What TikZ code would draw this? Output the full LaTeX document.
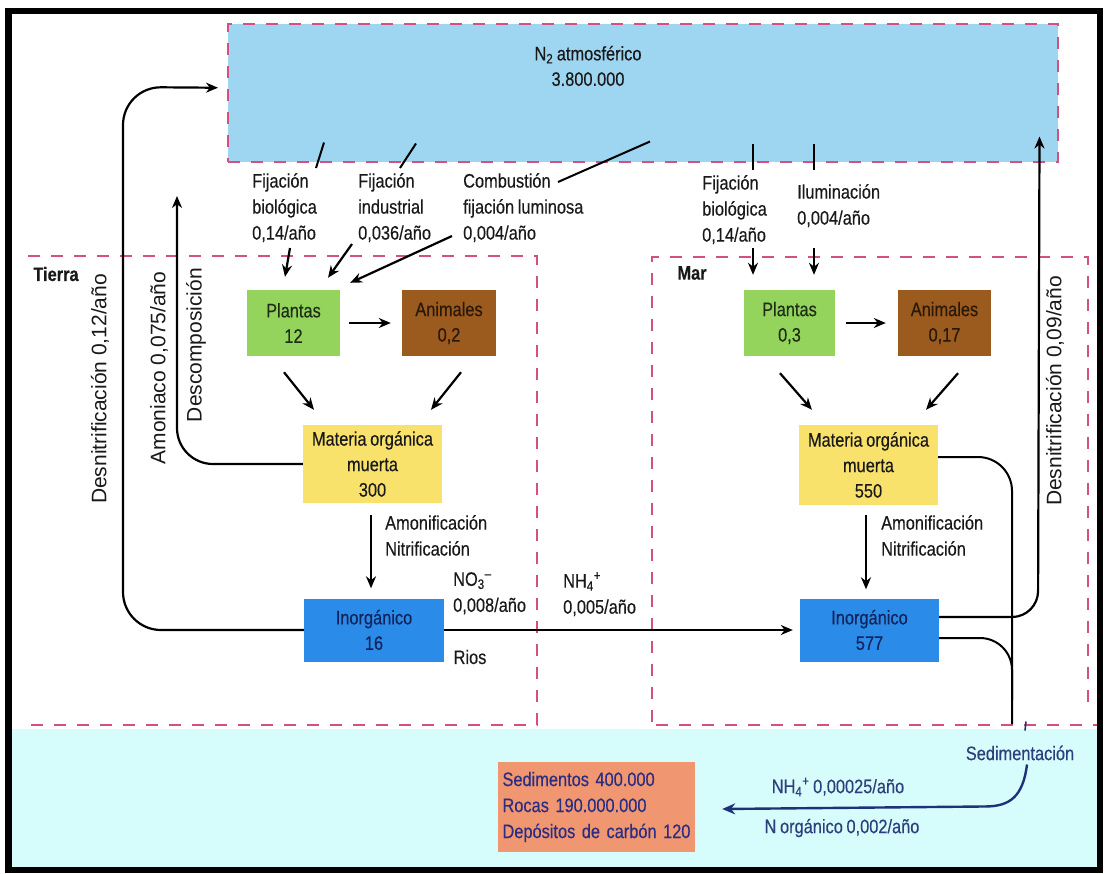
\documentclass[tikz,border=0pt]{standalone}
\usepackage{fontspec}
\setmainfont{Liberation Sans}
\newfontfamily\cnd[FakeStretch=0.84,FakeBold=0.3,WordSpace=0.8]{Liberation Sans}
\usetikzlibrary{arrows.meta,calc}
\definecolor{dashc}{RGB}{210,80,130}
\definecolor{airc}{RGB}{158,213,240}
\definecolor{seac}{RGB}{214,252,252}
\definecolor{plantc}{RGB}{148,212,92}
\definecolor{animc}{RGB}{155,90,30}
\definecolor{matc}{RGB}{248,226,107}
\definecolor{inoc}{RGB}{42,140,232}
\definecolor{sedc}{RGB}{240,150,112}
\definecolor{txtc}{RGB}{25,25,25}
\definecolor{plttxt}{RGB}{30,45,20}
\definecolor{anitxt}{RGB}{40,25,10}
\definecolor{inotxt}{RGB}{20,35,90}
\definecolor{seatxt}{RGB}{45,62,125}
\definecolor{sedtxt}{RGB}{42,45,130}
\definecolor{bluearr}{RGB}{30,50,120}
\tikzset{
  boxs/.style={rectangle, inner sep=0pt, align=center, text=txtc, font=\cnd\fontsize{19.5}{25.5}\selectfont},
  lbl/.style={inner sep=0pt, align=left, anchor=north west, text=txtc, font=\cnd\fontsize{19.5}{26}\selectfont},
  rlbl/.style={inner sep=0pt, rotate=90, text=txtc, font=\fontsize{21}{26}\selectfont},
  arr/.style={line width=2.2pt, -{Stealth[length=12pt,width=10pt]}},
  arrb/.style={line width=2.4pt, draw=bluearr, -{Stealth[length=13pt,width=11pt]}},
  con/.style={line width=2pt},
  tk/.style={line width=2pt},
  dsh/.style={draw=dashc, line width=1.5pt, dash pattern=on 12pt off 11pt}
}
\begin{document}
\begin{tikzpicture}[x=1pt,y=-1pt]
\useasboundingbox (0,0) rectangle (1105,873);
\fill[white] (0,0) rectangle (1105,873);
\fill[seac] (10,729) rectangle (1099,868);

% atmosphere
\node[fill=airc, dsh, minimum width=830pt, minimum height=138pt, inner sep=0pt, anchor=north west] (n2) at (227,23) {};
\node[boxs] (n2t) at (588,66) {N\textsubscript{2} atmosférico\\3.800.000};

% regions
\draw[dsh] (28,256) -- (537,256) -- (537,725) -- (28,725);
\draw[dsh] (652,722) -- (652,257) -- (1088,257) -- (1088,712);
\draw[dsh] (656,725) -- (1097,725);
\node[inner sep=0pt, text=txtc, font=\cnd\bfseries\fontsize{19.5}{24}\selectfont] (tierra) at (56,274) {Tierra};
\node[inner sep=0pt, text=txtc, font=\cnd\bfseries\fontsize{19.5}{24}\selectfont] (mar) at (692,273) {Mar};

% boxes Tierra
\node[boxs, fill=plantc, minimum width=93pt, minimum height=66pt, text=plttxt] (pT) at (293.5,323) {Plantas\\12};
\node[boxs, fill=animc, minimum width=94pt, minimum height=66pt, text=anitxt] (aT) at (449,323) {Animales\\0,2};
\node[boxs, fill=matc, minimum width=139pt, minimum height=78pt] (mT) at (372.5,464) {Materia orgánica\\muerta\\300};
\node[boxs, fill=inoc, minimum width=140pt, minimum height=63pt, text=inotxt] (iT) at (374,630) {Inorgánico\\16};
% boxes Mar
\node[boxs, fill=plantc, minimum width=91pt, minimum height=66pt, text=plttxt] (pM) at (789.5,323) {Plantas\\0,3};
\node[boxs, fill=animc, minimum width=93pt, minimum height=66pt, text=anitxt] (aM) at (944.5,323) {Animales\\0,17};
\node[boxs, fill=matc, minimum width=139pt, minimum height=80pt] (mM) at (868.5,465) {Materia orgánica\\muerta\\550};
\node[boxs, fill=inoc, minimum width=139pt, minimum height=63pt, text=inotxt] (iM) at (869.5,630) {Inorgánico\\577};

% labels
\node[lbl] (fbT) at (252,173) {Fijación\\biológica\\0,14/año};
\node[lbl] (fiT) at (358,173) {Fijación\\industrial\\0,036/año};
\node[lbl] (cbT) at (463,173) {Combustión\\fijación luminosa\\0,004/año};
\node[lbl] (fbM) at (702,175) {Fijación\\biológica\\0,14/año};
\node[lbl] (ilM) at (797,184) {Iluminación\\0,004/año};
\node[lbl] (amT) at (385,515) {Amonificación\\Nitrificación};
\node[lbl] (amM) at (881,515) {Amonificación\\Nitrificación};
\node[lbl] (no3) at (453,572) {NO\textsubscript{3}\textsuperscript{–}\\0,008/año};
\node[lbl] (nh4) at (563,572) {NH\textsubscript{4}\textsuperscript{+}\\0,005/año};
\node[lbl, anchor=center] (rios) at (470,657) {Rios};

\node[rlbl] (dnT) at (100,389) {Desnitrificación 0,12/año};
\node[rlbl] (amo) at (159,368) {Amoniaco 0,075/año};
\node[rlbl] (dsc) at (196,345) {Descomposición};
\node[rlbl] (dnM) at (1055,391) {Desnitrificación 0,09/año};

% sea
\node[boxs, text=seatxt] (sedl) at (1020,753) {Sedimentación};
\node[boxs, text=seatxt] (nh4s) at (838,787) {NH\textsubscript{4}\textsuperscript{+} 0,00025/año};
\node[boxs, text=seatxt] (norg) at (842,828) {N orgánico 0,002/año};
\node[fill=sedc, minimum width=197pt, minimum height=90pt, text width=188pt, inner xsep=4.5pt, inner ysep=0pt, align=left, text=sedtxt, font=\cnd\fontsize{19.5}{26}\selectfont] (sedb) at (596.5,807) {Sedimentos 400.000\\Rocas 190.000.000\\Depósitos de carbón 120};

% free ends
\coordinate (n2in) at ($(n2.west)+(-9,-5)$);
\coordinate (amtip) at (177,196);
\coordinate (dnMtip) at ($(n2.south east)+(-19,-26)$);
\coordinate (sedj) at (1012,724);

% ticks from atmosphere to labels
\draw[tk] ($(fbT.north west)+(64,-5)$) -- ($(n2.south west)+(97,-20)$);
\draw[tk] ($(fiT.north west)+(42,-5)$) -- ($(n2.south west)+(189,-19)$);
\draw[tk] ($(cbT.north west)+(95,9)$) -- ($(n2.south west)+(423,-21)$);
\draw[tk] ($(fbM.north west)+(51,-5)$) -- ($(n2.south west)+(526,-19)$);
\draw[tk] ($(ilM.north west)+(17,-14)$) -- ($(n2.south west)+(587,-19)$);

% fixation arrows
\draw[arr] ($(fbT.north west)+(38,75)$) -- ($(pT.north)+(-8.5,-13)$);
\draw[arr] ($(fiT.north west)+(-6,71)$) -- ($(pT.north)+(34.5,-12)$);
\draw[arr] ($(cbT.north west)+(-11,63)$) -- ($(pT.north east)+(10,-7)$);
\draw[arr] ($(fbM.north west)+(51,73)$) -- ($(pM.north)+(-36.5,-15)$);
\draw[arr] ($(ilM.north west)+(17,64)$) -- ($(pM.north)+(24.5,-15)$);

% food web Tierra
\draw[arr] ($(pT.east)+(9,0)$) -- ($(aT.west)+(-11,0)$);
\draw[arr] ($(pT.south)+(-9.5,16)$) -- ($(mT.north)+(-58.5,-15)$);
\draw[arr] ($(aT.south)+(12,16)$) -- ($(mT.north)+(58.5,-15)$);
\draw[line width=2pt, -{Stealth[length=12pt,width=10pt]}] ($(mT.south)+(-1.5,12)$) -- ($(iT.north)+(-3,-10)$);
% food web Mar
\draw[arr] ($(pM.east)+(11,0)$) -- ($(aM.west)+(-12,0)$);
\draw[arr] ($(pM.south)+(-9.5,17)$) -- ($(mM.north)+(-56.5,-15)$);
\draw[arr] ($(aM.south)+(13.5,17)$) -- ($(mM.north)+(57.5,-15)$);
\draw[line width=2pt, -{Stealth[length=12pt,width=10pt]}] ($(mM.south)+(-2.5,10)$) -- ($(iM.north)+(-3.5,-9)$);

% long connectors
\draw[arr, rounded corners=38pt] (iT.west) -- (123,630) -- (123,87) -- (n2in);
\draw[arr, rounded corners=36pt] (mT.west) -- (177,464) -- (amtip);
\draw[arr] (iT.east) -- ($(iM.west)+(-7,0)$);
\draw[arr, rounded corners=26pt] ($(iM.east)+(0,-13)$) -- (1038,617) -- (dnMtip);
\draw[con, rounded corners=34pt] ($(mM.east)+(0,-8)$) -- (1012,457) -- (sedj);
\draw[con, rounded corners=32pt] ($(iM.east)+(0,8)$) -- (1012,638) -- (1012,700);

% sedimentation
\draw[line width=1.6pt, bluearr] ($(sedl.north)+(6,-24)$) -- ($(sedl.north)+(5,-15)$);
\draw[arrb] ($(sedl.south)+(7,4)$) .. controls ($(sedl.south)+(3,36)$) and ($(sedl.south)+(-10,46)$) .. ($(sedl.south)+(-35,46)$) -- ($(sedb.east)+(27,2)$);

% frame
\draw[line width=6.5pt] (8.5,11) rectangle (1100,870);
\end{tikzpicture}
\end{document}
